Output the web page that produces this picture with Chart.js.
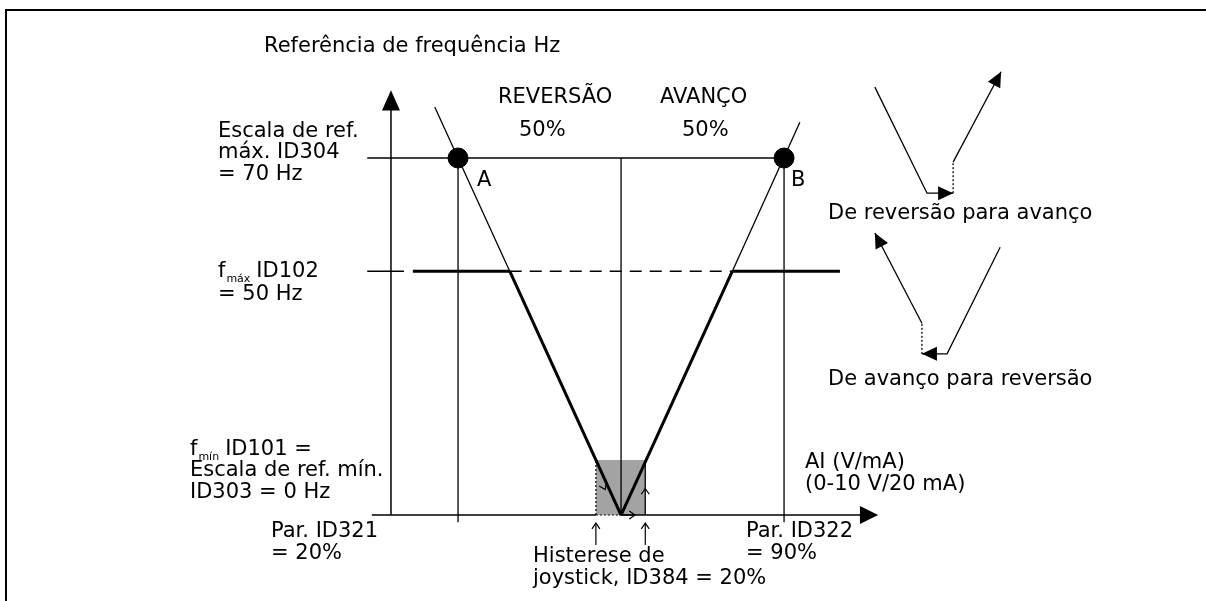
<!DOCTYPE html>
<html>
<head>
<meta charset="utf-8">
<script src="https://cdn.jsdelivr.net/npm/chart.js@4"></script>
<style>
  html, body { margin: 0; padding: 0; background: #fff; }
  #wrap { width: 1206px; height: 601px; }
</style>
</head>
<body>
<div id="wrap"><canvas id="diagram" width="1206" height="601"></canvas></div>
<script>
// x = analogue input (%), y = frequency reference (diagram units)
const pctA = 20, pctB = 90, pctMid = 55;
const yRefMax = 70, yFmax = 47.8;

const yAxisLine = [{x: 5.6, y: 0}, {x: 5.6, y: 81}];
const xAxisLeft = [{x: 1.5, y: 0}, {x: 49.6, y: 0}];
const xAxisDotted = [{x: 49.6, y: 0}, {x: 55, y: 0}];
const xAxisRight = [{x: 55, y: 0}, {x: 106.5, y: 0}];
const refMaxLine = [{x: 0.5, y: yRefMax}, {x: pctB, y: yRefMax}];
const fmaxTick = [{x: 0.5, y: yFmax}, {x: 8.4, y: yFmax}];
const fmaxLeft = [{x: 10.3, y: yFmax}, {x: 31.1, y: yFmax}];
const fmaxDashed = [{x: 31.1, y: yFmax}, {x: 78.9, y: yFmax}];
const fmaxRight = [{x: 78.9, y: yFmax}, {x: 102, y: yFmax}];
const reverseThin = [{x: 15, y: 80}, {x: 31.1, y: yFmax}];
const reverseThick = [{x: 31.1, y: yFmax}, {x: pctMid, y: 0}];
const forwardThick = [{x: pctMid, y: 0}, {x: 78.9, y: yFmax}];
const forwardThin = [{x: 78.9, y: yFmax}, {x: 93.4, y: 77}];
const vertA = [{x: pctA, y: yRefMax}, {x: pctA, y: -1.4}];
const vertB = [{x: pctB, y: yRefMax}, {x: pctB, y: -1.4}];
const vertMid = [{x: pctMid, y: yRefMax}, {x: pctMid, y: 0}];
const hystBox = [{x: 49.6, y: 0}, {x: 49.6, y: 10.8}, {x: 60.2, y: 10.8}, {x: 60.2, y: 0}];
const hystLeftEdge = [{x: 49.6, y: 0}, {x: 49.6, y: 10.8}];
const hystRightEdge = [{x: 60.2, y: 0}, {x: 60.2, y: 10.8}];
const hystMarkLeft = [{x: 49.6, y: -5.9}, {x: 49.6, y: -1.6}];
const hystMarkRight = [{x: 60.2, y: -5.9}, {x: 60.2, y: -1.6}];
const pointsAB = [{x: pctA, y: yRefMax}, {x: pctB, y: yRefMax}];

// small insets on the right
const revToFwdA = [{x: 109.5, y: 83.9}, {x: 120.7, y: 63.1}, {x: 126.3, y: 63.1}];
const revToFwdDot = [{x: 126.3, y: 63.1}, {x: 126.3, y: 69.2}];
const revToFwdB = [{x: 126.3, y: 69.2}, {x: 136.6, y: 86.9}];
const fwdToRevA = [{x: 136.4, y: 52.5}, {x: 125.0, y: 31.6}, {x: 119.6, y: 31.6}];
const fwdToRevDot = [{x: 119.6, y: 31.6}, {x: 119.6, y: 37.6}];
const fwdToRevB = [{x: 119.6, y: 37.6}, {x: 109.5, y: 55.3}];

const textFont = '21px "DejaVu Sans", Verdana, sans-serif';
const subFont = '11px "DejaVu Sans", Verdana, sans-serif';
const labels = [
  ['Referência de frequência Hz', 264, 52],
  ['REVERSÃO', 498, 103], ['50%', 519, 136],
  ['AVANÇO', 660, 103], ['50%', 682, 136],
  ['Escala de ref.', 218, 137], ['máx. ID304', 218, 158], ['= 70 Hz', 218, 180],
  ['= 50 Hz', 218, 300],
  ['Escala de ref. mín.', 190, 476], ['ID303 = 0 Hz', 190, 498],
  ['Par. ID321', 271, 537], ['= 20%', 271, 559],
  ['Histerese de', 533, 562], ['joystick, ID384 = 20%', 533, 584],
  ['Par. ID322', 746, 537], ['= 90%', 746, 559],
  ['AI (V/mA)', 805, 468], ['(0-10 V/20 mA)', 805, 490],
  ['A', 477, 186], ['B', 791, 186],
  ['De reversão para avanço', 828, 219],
  ['De avanço para reversão', 828, 385]
];

function seg(data, width, dash) {
  return {
    data, showLine: true, borderColor: '#000', borderWidth: width,
    borderDash: dash || [], pointRadius: 0, fill: false, tension: 0
  };
}

const decor = {
  id: 'decor',
  afterDatasetsDraw(chart) {
    const ctx = chart.ctx;
    const sx = chart.scales.x, sy = chart.scales.y;
    const px = v => sx.getPixelForValue(v), py = v => sy.getPixelForValue(v);
    ctx.save();
    // frame
    ctx.strokeStyle = '#000';
    ctx.lineWidth = 2;
    ctx.beginPath();
    ctx.moveTo(6, 601); ctx.lineTo(6, 10); ctx.lineTo(1206, 10);
    ctx.stroke();

    const tri = (tx, ty, bx, by, half) => {
      const ang = Math.atan2(ty - by, tx - bx);
      const nx = -Math.sin(ang) * half, ny = Math.cos(ang) * half;
      ctx.beginPath();
      ctx.moveTo(tx, ty);
      ctx.lineTo(bx + nx, by + ny);
      ctx.lineTo(bx - nx, by - ny);
      ctx.closePath();
      ctx.fill();
    };
    ctx.fillStyle = '#000';
    // axis arrows
    const ax = px(5.6);
    tri(ax, py(83.3), ax, py(79.3), 9);
    tri(px(110.2), py(0), px(106.3), py(0), 9);
    // inset arrowheads
    const dir = (a, b, len) => {
      const x1 = px(a.x), y1 = py(a.y), x2 = px(b.x), y2 = py(b.y);
      const d = Math.hypot(x2 - x1, y2 - y1);
      tri(x2, y2, x2 - (x2 - x1) / d * len, y2 - (y2 - y1) / d * len, 7);
    };
    dir(revToFwdA[1], revToFwdA[2], 15);
    dir(revToFwdB[0], revToFwdB[1], 15);
    dir(fwdToRevA[1], fwdToRevA[2], 15);
    dir(fwdToRevB[0], fwdToRevB[1], 15);

    // small open chevrons
    ctx.lineWidth = 1.2;
    const chev = (cx, cy, ang) => {
      const l = 7;
      ctx.beginPath();
      ctx.moveTo(cx - l * Math.cos(ang - 0.6), cy - l * Math.sin(ang - 0.6));
      ctx.lineTo(cx, cy);
      ctx.lineTo(cx - l * Math.cos(ang + 0.6), cy - l * Math.sin(ang + 0.6));
      ctx.stroke();
    };
    chev(px(58), py(0), 0);
    chev(px(60.2), py(5.2), -Math.PI / 2);
    chev(px(51.6), py(5.0), Math.atan2(2.18, 1));
    chev(px(49.6), py(-1.6), -Math.PI / 2);
    chev(px(60.2), py(-1.6), -Math.PI / 2);
    ctx.beginPath();
    ctx.moveTo(px(55), py(0)); ctx.lineTo(px(58), py(0));
    ctx.stroke();

    // text
    ctx.font = textFont;
    ctx.textBaseline = 'alphabetic';
    ctx.textAlign = 'left';
    labels.forEach(([t, x, y]) => ctx.fillText(t, x, y));
    // f with subscripts
    const sub = (x, y, main, s, rest) => {
      ctx.font = textFont;
      ctx.fillText(main, x, y);
      const w = ctx.measureText(main).width;
      ctx.font = subFont;
      ctx.fillText(s, x + w + 1, y + 5);
      const w2 = ctx.measureText(s).width;
      ctx.font = textFont;
      ctx.fillText(rest, x + w + w2 + 7, y);
    };
    sub(218, 277, 'f', 'máx', 'ID102');
    sub(190, 455, 'f', 'mín', 'ID101 =');
    ctx.restore();
  }
};

new Chart(document.getElementById('diagram'), {
  type: 'scatter',
  data: {
    datasets: [
      { data: pointsAB, pointRadius: 10, pointBackgroundColor: '#000',
        pointBorderColor: '#000', showLine: false },
      seg(hystLeftEdge, 1.2, [2, 2]),
      seg(hystRightEdge, 1.3),
      seg(hystMarkLeft, 1.2),
      seg(hystMarkRight, 1.2),
      seg(yAxisLine, 1.5),
      seg(xAxisLeft, 1.5),
      seg(xAxisDotted, 1.2, [2, 2]),
      seg(xAxisRight, 1.5),
      seg(refMaxLine, 1.3),
      seg(fmaxTick, 1.3),
      seg(fmaxLeft, 3),
      seg(fmaxDashed, 1.3, [12, 8]),
      seg(fmaxRight, 3),
      seg(reverseThin, 1.3),
      seg(reverseThick, 3),
      seg(forwardThick, 3),
      seg(forwardThin, 1.3),
      seg(vertA, 1.3),
      seg(vertB, 1.3),
      seg(vertMid, 1.3),
      seg(revToFwdA, 1.3),
      seg(revToFwdDot, 1.3, [2, 2]),
      seg(revToFwdB, 1.3),
      seg(fwdToRevA, 1.3),
      seg(fwdToRevDot, 1.3, [2, 2]),
      seg(fwdToRevB, 1.3),
      { data: hystBox, showLine: true, borderWidth: 0, borderColor: 'rgba(0,0,0,0)',
        backgroundColor: '#a3a3a3', fill: 'origin', pointRadius: 0, tension: 0, order: 10 }
    ]
  },
  options: {
    responsive: false,
    animation: false,
    layout: { padding: 0, autoPadding: false },
    plugins: { legend: { display: false }, tooltip: { enabled: false } },
    scales: {
      x: { type: 'linear', display: false, min: -78.35, max: 180.6 },
      y: { type: 'linear', display: false, min: -16.86, max: 100.98 }
    }
  },
  plugins: [decor]
});
</script>
</body>
</html>
